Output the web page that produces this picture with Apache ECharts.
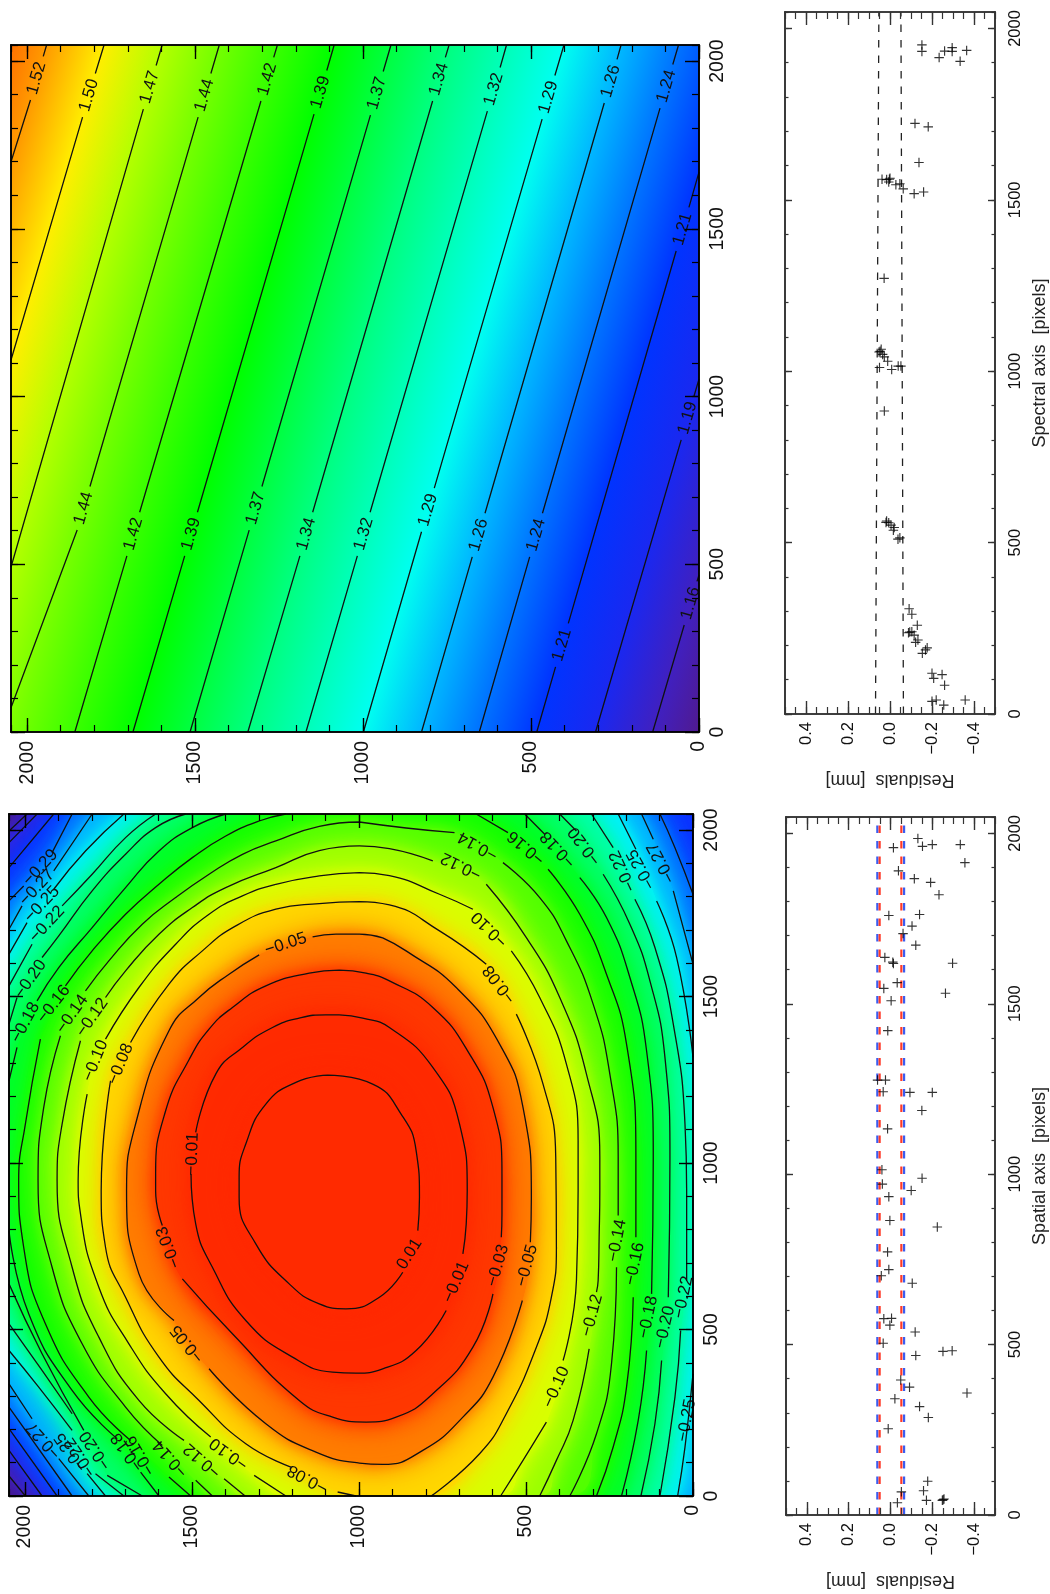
<!DOCTYPE html>
<html><head><meta charset="utf-8">
<style>html,body{margin:0;padding:0;background:#fff}#c{width:1050px;height:1594px}</style>
<script src="https://cdn.jsdelivr.net/npm/echarts@6/dist/echarts.min.js"></script>
</head><body><div id="c"></div>
<script>
// Tick labels
const pixelTicks=[0,500,1000,1500,2000];
const residualTicks=[-0.4,-0.2,0,0.2,0.4];

// Plane panel: contour lines as [spatial, spectral], null = gap for the label
const plane152=[[1942,2048],[1952,2014],null,[1990,1884],[2048,1700]];
const plane150=[[1771,2048],[1797,1963],null,[1835,1833],[2048,1109]];
const plane147=[[1598,2048],[1616,1987],null,[1654,1857],[2048,492]];
const plane144=[[1428,2048],[1453,1963],null,[1491,1833],[1813,732],null,[1851,602],[2048,72]];
const plane142=[[1255,2048],[1266,2011],null,[1304,1881],[1665,655],null,[1703,525],[1858,0]];
const plane139=[[1086,2048],[1108,1972],null,[1146,1842],[1493,655],null,[1531,525],[1685,0]];
const plane137=[[917,2048],[940,1969],null,[978,1839],[1301,732],null,[1339,602],[1515,0]];
const plane134=[[744,2048],[755,2011],null,[793,1881],[1150,655],null,[1188,525],[1343,0]];
const plane132=[[573,2048],[592,1981],null,[630,1851],[979,655],null,[1017,525],[1170,0]];
const plane129=[[402,2048],[429,1957],null,[467,1827],[788,727],null,[826,597],[999,0]];
const plane126=[[232,2048],[244,2005],null,[282,1875],[637,652],null,[675,522],[826,0]];
const plane124=[[61,2048],[78,1990],null,[116,1860],[466,652],null,[504,522],[654,0]];
const plane121=[[0,1669],[30,1564],null,[68,1434],[389,324],null,[427,194],[483,0]];
const plane119=[[0,1052],[15,1001],null,[53,871],[308,0]];
const plane116=[[0,468],[6,449],null,[44,319],[138,0]];
const planeLines=[plane152,plane150,plane147,plane144,plane142,plane139,plane137,plane134,plane132,plane129,plane126,plane124,plane121,plane119,plane116];
const planeColors=['#ff9a00','#ffee00','#b4ff00','#74ff00','#38ff00','#00ff00','#00ff40','#00ff80','#00ffb8','#00fff0','#00b8ff','#0074ff','#0034ff','#1a28f0','#4020c0'];
const planeCornerHigh=[2048,2048], planeCornerHighColor='#ff7000';
const planeCornerLow=[0,0], planeCornerLowColor='#501a90';
const planeRect=[[0,0],[0,2048],[2048,2048],[2048,0]];
const planeLabels=[
[1972,1949,'1.52'],[1816,1898,'1.50'],[1635,1922,'1.47'],[1472,1898,'1.44'],[1285,1946,'1.42'],[1127,1907,'1.39'],[959,1904,'1.37'],[774,1946,'1.34'],[611,1916,'1.32'],[448,1892,'1.29'],[263,1940,'1.26'],[97,1925,'1.24'],[49,1499,'1.21'],[34,936,'1.19'],[25,384,'1.16'],
[1832,667,'1.44'],[1684,590,'1.42'],[1512,590,'1.39'],[1320,667,'1.37'],[1169,590,'1.34'],[998,590,'1.32'],[807,662,'1.29'],[656,587,'1.26'],[485,587,'1.24'],[408,259,'1.21']];

// Distortion panel: contour lines as [spatial, spectral], outermost first
const ringM35=[[0,2048],null,[0,0],null,[1999,0],[2048,60],null,[2048,1997],[1994,2048]];
const ringM33=[[0,2048],null,[0,0],null,[1949,0],[2048,137],null,[2048,1962],[1964,2048]];
const ringM31=[[0,2048],null,[0,0],null,[1904,0],[2048,202],null,[2048,1887],[1914,2048]];
const ringM29=[[99,2048],[54,1947],[0,1807],null,[0,0],null,[1859,0],[2048,267],null,[2048,1787],[2004,1832],null,[1919,1932],[1859,2048]];
const ringM27=[[154,2048],[119,1972],null,[59,1817],[0,1597],null,[0,0],null,[1809,0],[1899,112],null,[1979,232],[2048,337],null,[2048,1702],[2009,1772],null,[1914,1877],[1799,2048]];
const ringM25=[[224,2048],[171,1942],null,[109,1787],[49,1617],[0,1317],null,[0,367],[24,147],[46,0],null,[1759,0],[1814,67],null,[1859,197],[1959,327],[2048,437],null,[2048,1627],[1994,1722],null,[1914,1822],[1819,1937],[1704,2048]];
const ringM22=[[304,2048],[239,1947],null,[174,1792],[114,1647],[59,1417],[24,1117],[19,917],[19,647],null,[37,497],[54,297],[99,0],null,[1704,0],[1789,67],null,[1859,247],[1949,377],[2048,517],null,[2048,1532],[1979,1657],null,[1889,1772],[1799,1867],[1699,1977],[1609,2048]];
const ringM20=[[399,2048],[349,1997],null,[269,1867],[189,1717],[129,1547],[84,1317],[69,1017],[74,597],null,[94,407],[114,217],[156,0],null,[1649,0],[1754,62],null,[1824,197],[1949,427],[2048,637],null,[2048,1417],[2024,1497],null,[1949,1617],[1899,1682],[1799,1817],[1699,1927],[1609,2007],[1519,2048]];
const ringM18=[[504,2048],[444,1987],null,[339,1857],[259,1737],[189,1557],[139,1337],[119,1017],[124,607],null,[139,437],[164,227],[214,0],null,[1599,0],[1654,72],null,[1724,172],[1859,317],[1989,547],[2048,797],null,[2048,1247],[2024,1347],null,[1964,1487],[1899,1587],[1799,1707],[1699,1827],[1599,1937],[1499,2007],[1399,2048]];
const ringM16=[[649,2048],[554,1992],null,[434,1882],[339,1747],[259,1567],[199,1357],[171,1017],[171,777],null,[179,597],[199,327],[239,147],[289,0],null,[1504,0],[1569,57],null,[1684,167],[1809,297],[1939,517],[2004,747],[2019,947],[1999,1117],[1954,1372],null,[1879,1532],[1799,1637],[1699,1747],[1599,1837],[1499,1917],[1399,1982],[1299,2027],[1219,2048]];
const ringM14=[[999,2024],[859,2006],[714,1992],null,[569,1902],[459,1797],[379,1667],[299,1477],[249,1267],[224,1017],[224,842],null,[229,687],[244,397],[289,187],[369,0],null,[1439,0],[1489,47],null,[1589,152],[1699,267],[1829,457],[1919,687],[1961,947],[1944,1167],[1894,1382],null,[1819,1517],[1749,1607],[1649,1717],[1549,1797],[1449,1867],[1349,1927],[1249,1967],[1119,2011],[999,2024]];
const ringM12=[[999,1952],[909,1944],[779,1907],null,[619,1837],[499,1677],[399,1497],[319,1267],[279,1017],[279,917],[281,780],[284,647],[289,612],null,[311,442],[359,227],[409,107],[459,0],null,[1341,0],[1404,52],null,[1524,167],[1659,287],[1779,477],[1859,687],[1904,947],[1889,1117],[1834,1367],null,[1759,1497],[1699,1577],[1599,1687],[1499,1767],[1399,1827],[1249,1887],[1119,1938],[999,1952]];
const ringM10=[[999,1872],[909,1863],[759,1807],[659,1762],null,[544,1637],[459,1497],[379,1297],[344,1067],[344,917],[349,647],[389,407],null,[439,222],[509,107],[576,0],null,[1219,0],[1314,62],null,[1444,177],[1579,307],[1689,457],[1779,627],[1834,847],[1841,947],[1814,1207],null,[1759,1372],[1659,1527],[1549,1657],[1449,1747],[1349,1802],[1249,1837],[1119,1862],[999,1872]];
const ringM08=[[999,1785],[909,1775],[759,1697],[619,1597],null,[529,1447],[449,1237],[411,1017],[409,747],[424,597],[469,447],[559,247],[639,127],[784,0],null,[1009,0],[1064,12],null,[1204,87],[1339,157],[1479,287],[1599,417],[1699,597],[1759,747],[1772,917],[1744,1247],null,[1684,1362],[1569,1537],[1469,1637],[1369,1712],[1249,1762],[1119,1779],[999,1785]];
const ringM05=[[929,1676],[999,1687],[1069,1687],[1139,1679],null,[1299,1625],[1389,1567],[1479,1497],[1569,1397],[1669,1117],[1696,917],[1659,667],[1554,527],null,[1449,382],[1279,217],[1129,132],[999,99],[929,95],[809,137],[689,237],[599,357],[511,587],null,[487,762],[484,897],[509,1167],[579,1357],[709,1527],[859,1637],[929,1676]];
const ringM03=[[1059,1579],[979,1570],[909,1547],[779,1467],[669,1327],[599,1167],[572,967],[572,847],[574,777],null,[599,607],[659,447],[779,307],[889,237],[979,222],[1079,237],[1179,287],[1379,487],[1529,652],null,[1589,812],[1609,917],[1609,967],[1579,1157],[1509,1310],[1449,1402],[1379,1467],[1279,1532],[1149,1570],[1059,1579]];
const ringM01=[[1059,1445],[989,1435],[909,1407],[779,1287],[699,1117],[676,917],[679,817],[689,727],null,[739,557],[829,437],[929,382],[1009,369],[1079,372],[1199,417],[1339,527],[1439,687],[1489,817],[1503,967],null,[1489,1092],[1429,1267],[1349,1347],[1259,1407],[1179,1435],[1099,1445],[1059,1445]];
const ringP01=[[1094,1264],[959,1237],[874,1147],[829,1037],[819,897],[824,797],null,[869,672],[939,597],[1039,562],[1119,577],[1209,637],[1309,757],[1359,897],[1359,957],[1339,1057],[1279,1177],[1189,1242],[1094,1264]];
const rings=[ringM35,ringM33,ringM31,ringM29,ringM27,ringM25,ringM22,ringM20,ringM18,ringM16,ringM14,ringM12,ringM10,ringM08,ringM05,ringM03,ringM01,ringP01];
const ringColors=['#4a20a8','#3228e0','#0c30ff','#0060ff','#00a8ff','#00f0ff','#00ffb0','#00ff70','#00ff30','#10ff00','#50ff00','#98ff00','#d8ff00','#ffd800','#ff7e00','#ff3800','#ff2a00','#ff2a00'];
const distortionBackground='#4a1a85';
const ringLabels=[
[1219,1657,'−0.05',18],[1499,1027,'−0.01',88],[1714,1297,'−0.08',68],[1789,1307,'−0.10',68],[1799,1437,'−0.12',55],[1859,1447,'−0.14',55],[1914,1477,'−0.16',52],[1999,1422,'−0.18',62],[1984,1552,'−0.20',55],[1934,1717,'−0.22',47],[1949,1777,'−0.25',47],[1964,1827,'−0.27',47],[1954,1887,'−0.29',47],
[644,1952,'−0.14',151],[694,1892,'−0.12',154],[609,1702,'−0.10',136],[579,1537,'−0.08',127],[499,1947,'−0.16',140],[404,1942,'−0.18',133],[324,1952,'−0.20',127],[209,1877,'−0.22',115],[154,1882,'−0.25',119],[94,1902,'−0.27',118],
[1569,747,'−0.03',111],[1514,457,'−0.05',129],[1154,52,'−0.08',152],[1389,127,'−0.10',144],[1469,107,'−0.12',139],[1564,112,'−0.14',132],[1654,122,'−0.16',121],[1694,132,'−0.18',126],[1789,137,'−0.20',124],[1834,117,'−0.22',124],[1864,132,'−0.25',125],[1944,167,'−0.27',132],
[849,727,'0.01',58],[709,642,'−0.01',67],[584,692,'−0.03',74],[497,692,'−0.05',75],[409,327,'−0.10',66],[302,542,'−0.12',75],[227,767,'−0.14',79],[174,697,'−0.16',78],[134,537,'−0.18',78],[84,507,'−0.20',77],[29,597,'−0.22',78],[19,227,'−0.25',79]];

// Residuals as [residual mm, pixel]
const spatialResiduals=[[-0.131,1985],[-0.014,1958],[-0.153,1962],[-0.2,1967],[-0.334,1967],[-0.356,1914],[-0.038,1890],[-0.114,1867],[-0.192,1856],[-0.232,1820],[0.008,1759],[-0.139,1762],[-0.103,1728],[-0.06,1706],[-0.121,1672],[0.027,1636],[-0.014,1618],[-0.011,1622],[-0.297,1619],[-0.032,1562],[0.032,1545],[-0.263,1531],[-0.003,1509],[0.013,1421],[0.024,1276],[0.062,1276],[0.035,1242],[-0.093,1240],[-0.2,1240],[-0.15,1187],[0.014,1133],[0.041,1013],[-0.151,988],[0.039,971],[-0.099,952],[0.008,934],[0.003,864],[-0.224,845],[0.014,772],[0.008,720],[0.044,702],[-0.104,680],[0.032,576],[-0.005,577],[0.003,557],[-0.118,537],[0.035,504],[-0.251,480],[-0.295,482],[-0.121,468],[-0.049,396],[-0.091,375],[-0.366,358],[-0.021,341],[-0.139,318],[-0.181,286],[0.011,253],[-0.178,99],[-0.158,71],[-0.052,68],[-0.172,43],[-0.033,36],[-0.256,47],[-0.248,43],[-0.252,45]];
const spectralResiduals=[[-0.152,1952],[-0.152,1933],[-0.296,1944],[-0.296,1933],[-0.26,1934],[-0.365,1936],[-0.234,1915],[-0.334,1904],[-0.119,1723],[-0.182,1713],[-0.138,1609],[0.038,1560],[0.016,1559],[0.003,1560],[0.006,1552],[0,1563],[-0.028,1544],[-0.047,1547],[-0.063,1532],[-0.115,1518],[-0.16,1523],[0.028,1271],[0.047,1058],[0.042,1064],[0.052,1056],[0.035,1049],[0.027,1042],[0.011,1029],[-0.039,1015],[-0.008,1005],[0.05,1011],[-0.052,1015],[0.027,884],[0.016,563],[0.006,558],[0.019,559],[-0.005,551],[-0.02,544],[-0.016,536],[-0.047,514],[-0.038,510],[-0.091,307],[-0.104,291],[-0.13,259],[-0.094,239],[-0.104,240],[-0.088,237],[-0.115,230],[-0.133,216],[-0.122,209],[-0.177,193],[-0.169,187],[-0.154,177],[-0.2,119],[-0.208,104],[-0.248,115],[-0.26,84],[-0.358,41],[-0.2,37],[-0.22,41],[-0.256,26]];
const spectralLimitUpper=[[0.069,0],[0.053,2048]];
const spectralLimitLower=[[-0.064,0],[-0.052,2048]];
const spatialBlueUpper=[[0.063,0],[0.063,2048]];
const spatialBlueLower=[[-0.065,0],[-0.065,2048]];
const spatialRedUpper=[[0.052,0],[0.052,2048]];
const spatialRedLower=[[-0.052,0],[-0.052,2048]];

const FONT='"Liberation Sans"';
const PLUS='path://M-1.2,-10H1.2V-1.2H10V1.2H1.2V10H-1.2V1.2H-10V-1.2H-1.2Z';
const grids=[
 {left:11,top:45,width:688,height:687,show:true,backgroundColor:'#fff',borderWidth:0},
 {left:9,top:814,width:684,height:682,show:true,backgroundColor:distortionBackground,borderWidth:0},
 {left:785,top:12,width:212,height:702},
 {left:786,top:817,width:211,height:698}];
const xAxes=[],yAxes=[];
function addAxis(list,grid,o){
  const base={gridIndex:grid,type:'value',min:o.min,max:o.max,inverse:!!o.inverse,position:o.position,z:20,
    splitLine:{show:false},axisLine:{show:true,onZero:false,lineStyle:{color:o.frame,width:1.6}}};
  const major=Object.assign({},base,{
    axisTick:{show:true,inside:true,length:o.majorLen,customValues:o.ticks,lineStyle:{color:o.frame,width:1.4}},
    axisLabel:o.label?{show:true,rotate:90,fontFamily:FONT,fontSize:o.fontSize,color:'#111',margin:o.margin,customValues:o.ticks,hideOverlap:false,showMinLabel:true,showMaxLabel:true,
      formatter:v=>(+v).toFixed(o.dec).replace('-','−')}:{show:false}},o.name||{});
  const minor=Object.assign({},base,{interval:o.minorStep,
    axisTick:{show:true,inside:true,length:o.minorLen,lineStyle:{color:o.frame,width:1.2}},axisLabel:{show:false}});
  list.push(major,minor);
  return list.length-2;
}
function pair(list,grid,o,name,mainPos,otherPos){
  const idx=addAxis(list,grid,Object.assign({},o,{position:mainPos,label:true,name}));
  addAxis(list,grid,Object.assign({},o,{position:otherPos,label:false}));
  return idx;
}
const heat={min:0,max:2048,ticks:pixelTicks,minorStep:100,majorLen:14,minorLen:7,frame:'#000',fontSize:19.5,margin:9,dec:0};
const ax=[0,1].map(g=>[pair(xAxes,g,Object.assign({inverse:true},heat),null,'bottom','top'),pair(yAxes,g,heat,null,'right','left')]);
const resX={min:-0.5,max:0.5,inverse:true,ticks:residualTicks,minorStep:0.05,majorLen:13,minorLen:7,frame:'#333',fontSize:16.5,margin:8,dec:1};
const resY={min:0,max:2048,ticks:pixelTicks,minorStep:100,majorLen:7,minorLen:3.5,frame:'#333',fontSize:16.5,margin:12,dec:0};
const resXName={name:'Residuals  [mm]',nameLocation:'middle',nameRotate:180,nameGap:57,nameTextStyle:{fontFamily:FONT,fontSize:18,color:'#222'}};
[['Spectral axis  [pixels]',2],['Spatial axis  [pixels]',3]].forEach(([t,g])=>{
  ax[g]=[pair(xAxes,g,resX,resXName,'bottom','top'),
         pair(yAxes,g,resY,{name:t,nameLocation:'middle',nameRotate:90,nameGap:36,nameTextStyle:{fontFamily:FONT,fontSize:18,color:'#222'}},'right','left')];
});
function on(g){return{xAxisIndex:ax[g][0],yAxisIndex:ax[g][1]};}
const clean=l=>l.filter(Boolean);
const lineData=l=>l.map(p=>p||[null,null]);

const series=[];
// plane colour ramp, perpendicular to its contour lines
series.push({type:'custom',...on(0),clip:true,z:1,silent:true,data:[[0,0]],
  renderItem(params,api){
    const a=api.coord(plane134[0]),b=api.coord(plane134[plane134.length-1]);
    let nx=-(b[1]-a[1]),ny=b[0]-a[0];const len=Math.hypot(nx,ny);nx/=len;ny/=len;
    const proj=p=>{const c=api.coord(p);return c[0]*nx+c[1]*ny;};
    const hi=api.coord(planeCornerHigh),d0=proj(planeCornerHigh),d1=proj(planeCornerLow),span=d1-d0;
    const stops=[{offset:0,color:planeCornerHighColor}];
    planeLines.forEach((l,i)=>stops.push({offset:(proj(l[0])-d0)/span,color:planeColors[i]}));
    stops.push({offset:1,color:planeCornerLowColor});
    return {type:'polygon',shape:{points:planeRect.map(p=>api.coord(p))},
      style:{fill:{type:'linear',x:hi[0],y:hi[1],x2:hi[0]+nx*span,y2:hi[1]+ny*span,global:true,colorStops:stops}}};
  }});
planeLines.forEach(l=>series.push({type:'line',...on(0),data:lineData(l),symbol:'none',z:5,silent:true,lineStyle:{color:'#111',width:1.3},animation:false}));
// distortion colour bands, one filled region per contour
series.push({type:'custom',...on(1),clip:true,z:1,silent:true,data:rings.map((r,i)=>[0,0,i]),
  renderItem(params,api){
    const i=api.value(2);
    const pts=clean(rings[i]).map(p=>api.coord(p));
    const shape={points:pts,smooth:i>=10?0.5:0};
    return {type:'group',children:[36,18,8].map(b=>({type:'polygon',shape,
      style:{fill:ringColors[i],shadowBlur:b,shadowColor:ringColors[i]}}))};
  }});
rings.forEach(l=>series.push({type:'line',...on(1),data:lineData(l),symbol:'none',smooth:0.5,z:5,silent:true,lineStyle:{color:'#111',width:1.3},animation:false}));
// contour labels
function labelSeries(g,list,rotOf){
  return {type:'custom',...on(g),z:7,silent:true,clip:false,data:list.map(d=>[d[0],d[1]]),
    renderItem(params,api){
      const c=api.coord([api.value(0),api.value(1)]),d=list[params.dataIndex];
      return {type:'text',x:c[0],y:c[1],rotation:rotOf(d)*Math.PI/180,
        style:{text:d[2],fontFamily:FONT,fontSize:17,fill:'#111',align:'center',verticalAlign:'middle'}};
    }};
}
series.push(labelSeries(0,planeLabels,()=>73.7));
series.push(labelSeries(1,ringLabels,d=>d[3]));
// residuals
function plus(g,data){return {type:'scatter',...on(g),data,symbol:PLUS,symbolSize:9.5,z:6,silent:true,itemStyle:{color:'#000'}};}
function limit(g,data,color,width){return {type:'line',...on(g),data,symbol:'none',z:5,silent:true,lineStyle:{color,width,type:[7.5,8]}};}
series.push(plus(2,spectralResiduals),limit(2,spectralLimitUpper,'#222',1.3),limit(2,spectralLimitLower,'#222',1.3));
series.push(plus(3,spatialResiduals),limit(3,spatialBlueUpper,'#3a5cf0',2.2),limit(3,spatialBlueLower,'#3a5cf0',2.2),limit(3,spatialRedUpper,'#ff3a28',2.2),limit(3,spatialRedLower,'#ff3a28',2.2));

const chart=echarts.init(document.getElementById('c'),null,{renderer:'canvas',width:1050,height:1594});
chart.setOption({animation:false,backgroundColor:'#fff',grid:grids,xAxis:xAxes,yAxis:yAxes,series});
</script></body></html>
